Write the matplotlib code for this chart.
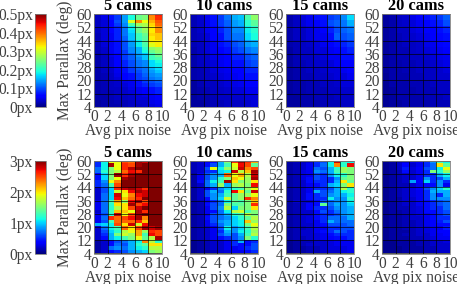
import matplotlib
matplotlib.use("Agg")
import matplotlib.pyplot as plt
from matplotlib.cm import ScalarMappable
from matplotlib.colors import Normalize

plt.rcParams['font.family'] = ['Liberation Serif', 'DejaVu Serif']

titles = ["5 cams", "10 cams", "15 cams", "20 cams"]
x_ticks = [0, 2, 4, 6, 8, 10]
y_ticks = [4, 12, 20, 28, 36, 44, 52, 60]
top_cbar_ticks = [0, 0.1, 0.2, 0.3, 0.4, 0.5]
top_cbar_labels = ["0px", "0.1px", "0.2px", "0.3px", "0.4px", "0.5px"]
bot_cbar_ticks = [0, 1, 2, 3]
bot_cbar_labels = ["0px", "1px", "2px", "3px"]

top_5 = [
 [.03,.045,.07,.09,.14,.19,.24,.25,.39,.44],
 [.03,.045,.07,.09,.14,.19,.24,.25,.38,.43],
 [.03,.04,.06,.10,.14,.31,.38,.32,.36,.41],
 [.03,.04,.06,.09,.13,.22,.27,.28,.34,.40],
 [.03,.04,.06,.08,.12,.18,.24,.27,.33,.38],
 [.03,.04,.06,.08,.12,.17,.24,.26,.33,.38],
 [.025,.04,.05,.08,.12,.16,.21,.24,.34,.35],
 [.025,.04,.05,.08,.11,.16,.21,.23,.33,.35],
 [.025,.04,.05,.07,.10,.14,.18,.23,.33,.33],
 [.025,.04,.05,.07,.10,.14,.18,.22,.31,.33],
 [.025,.035,.05,.07,.10,.13,.15,.20,.26,.27],
 [.025,.035,.05,.07,.09,.13,.15,.19,.24,.26],
 [.02,.03,.045,.06,.09,.11,.14,.16,.21,.24],
 [.02,.03,.04,.06,.09,.11,.13,.16,.21,.22],
 [.02,.03,.04,.06,.08,.10,.12,.13,.17,.19],
 [.02,.03,.04,.06,.08,.10,.12,.13,.17,.18],
 [.02,.03,.035,.05,.07,.09,.11,.12,.15,.17],
 [.02,.03,.035,.05,.07,.09,.10,.12,.14,.16],
 [.02,.025,.03,.045,.06,.07,.09,.11,.13,.14],
 [.02,.025,.03,.04,.06,.07,.09,.10,.12,.13],
 [.02,.025,.03,.035,.045,.05,.07,.09,.10,.11],
 [.02,.025,.03,.035,.04,.05,.07,.08,.09,.10],
 [.02,.025,.03,.03,.035,.045,.05,.06,.07,.08],
 [.02,.025,.025,.03,.035,.04,.05,.06,.07,.08],
 [.02,.02,.025,.03,.03,.035,.04,.045,.05,.06],
 [.02,.02,.025,.03,.03,.035,.04,.04,.05,.055],
 [.015,.02,.02,.025,.025,.03,.035,.035,.045,.05],
 [.015,.02,.02,.02,.025,.03,.03,.035,.04,.045],
]
top_10 = [
 [.025,.035,.05,.07,.09,.12,.15,.16,.22,.26],
 [.025,.035,.05,.07,.09,.11,.14,.15,.20,.23],
 [.025,.035,.05,.06,.08,.10,.13,.13,.18,.20],
 [.025,.03,.04,.06,.07,.10,.12,.12,.17,.19],
 [.025,.03,.04,.05,.07,.08,.10,.11,.14,.15],
 [.02,.03,.04,.05,.06,.07,.09,.10,.12,.13],
 [.02,.03,.035,.045,.05,.06,.08,.08,.10,.11],
 [.02,.03,.035,.04,.05,.06,.07,.07,.09,.10],
 [.02,.025,.03,.04,.045,.05,.06,.06,.08,.08],
 [.02,.025,.03,.035,.04,.045,.05,.06,.07,.07],
 [.015,.025,.03,.03,.035,.04,.045,.05,.06,.06],
 [.015,.02,.025,.03,.03,.035,.04,.04,.05,.05],
 [.015,.02,.02,.025,.03,.03,.035,.035,.04,.04],
 [.015,.015,.02,.025,.025,.03,.03,.03,.035,.04],
]
top_15 = [
 [.02,.03,.04,.05,.07,.07,.09,.10,.13,.17],
 [.02,.03,.04,.05,.06,.07,.10,.11,.12,.15],
 [.02,.03,.03,.04,.05,.06,.08,.10,.11,.12],
 [.02,.03,.03,.04,.05,.05,.07,.11,.10,.11],
 [.02,.025,.03,.035,.04,.05,.06,.07,.08,.09],
 [.015,.025,.03,.03,.04,.04,.05,.06,.07,.08],
 [.015,.025,.03,.03,.035,.04,.05,.05,.07,.07],
 [.015,.025,.025,.03,.035,.035,.04,.05,.055,.06],
 [.015,.02,.025,.03,.03,.035,.04,.04,.05,.055],
 [.015,.02,.025,.025,.03,.03,.035,.04,.04,.05],
 [.015,.02,.02,.025,.025,.03,.03,.035,.04,.04],
 [.015,.02,.02,.025,.025,.025,.03,.03,.035,.035],
 [.015,.015,.02,.02,.025,.025,.025,.03,.03,.03],
 [.015,.015,.02,.02,.02,.025,.025,.025,.03,.03],
]
top_20 = [
 [.015,.02,.03,.035,.045,.055,.07,.08,.09,.11],
 [.015,.02,.03,.035,.04,.05,.06,.07,.08,.10],
 [.015,.02,.03,.03,.04,.045,.055,.06,.07,.08],
 [.015,.02,.025,.03,.035,.04,.05,.055,.065,.07],
 [.015,.02,.025,.03,.03,.035,.045,.05,.055,.065],
 [.015,.02,.025,.025,.03,.035,.04,.045,.05,.055],
 [.015,.02,.025,.025,.03,.03,.035,.04,.045,.05],
 [.015,.02,.02,.025,.025,.03,.03,.035,.04,.045],
 [.015,.02,.02,.025,.025,.03,.03,.03,.035,.04],
 [.01,.02,.02,.02,.025,.025,.03,.03,.035,.035],
 [.01,.02,.02,.02,.025,.025,.025,.03,.03,.03],
 [.01,.015,.02,.02,.02,.025,.025,.025,.03,.03],
 [.01,.015,.02,.02,.02,.02,.025,.025,.025,.03],
 [.01,.015,.015,.02,.02,.02,.02,.025,.025,.025],
]
bot_5 = [
 [.5,1.1,1.9,1.9,2.5,2.4,2.9,2.8,3,3],
 [.5,1.1,2.9,1.9,2.6,2.5,2.9,3,3,3],
 [.7,1.1,1.5,1.9,2.6,2.85,3,3,3,3],
 [.7,1.2,1.5,1.7,2.4,2.7,2.6,3,3,3],
 [.4,1.0,1.5,2.9,2.6,2.9,3,3,3,3],
 [.4,1.0,1.5,1.9,2.9,3,3,3,3,3],
 [.5,.8,1.9,2.3,3,3,3,3,3,3],
 [.5,.7,1.3,2.5,3,3,3,3,3,3],
 [.2,.6,1.0,2.6,2.8,2.9,2.8,2.6,3,3],
 [.2,.6,1.0,1.8,2.0,2.7,2.9,2.8,3,3],
 [.2,.7,1.0,2.8,1.9,2.3,2.7,2.8,3,3],
 [.2,.7,1.0,2.7,2.1,2.4,2.6,3,3,3],
 [.3,.7,1.3,2.2,1.6,2.7,2.9,2.5,3,3],
 [.3,.7,1.2,2.0,2.0,2.9,2.5,2.7,3,3],
 [.3,.7,1.2,1.7,2.0,2.5,2.8,3,3,3],
 [.2,.7,1.3,2.1,2.1,1.9,2.9,2.6,3,3],
 [.3,.6,1.2,2.8,1.9,2.5,2.9,3,3,3],
 [.3,.7,2.6,2.4,2.5,2.7,2.9,2.3,3,3],
 [.3,.6,1.3,2.4,2.4,2.4,2.6,2.1,3,3],
 [.9,1.0,1.1,2.5,2.0,2.8,1.8,2.7,3,3],
 [.2,.7,1.1,1.3,2.4,2.0,2.5,2.9,2.8,2.9],
 [.2,.6,1.0,1.2,1.7,1.9,2.2,1.6,2.6,2.5],
 [.2,.5,.9,1.5,1.8,1.6,2.2,1.3,2.7,2.5],
 [.2,.4,.9,1.1,1.3,1.5,1.9,1.4,1.7,2.9],
 [.1,.2,.4,.6,.7,.9,1.1,2.3,1.7,1.2],
 [.1,.2,.4,.7,.6,.9,1.2,1.4,2.0,2.0],
 [.1,.2,.7,.8,.7,.9,1.1,1.2,1.7,1.7],
 [.1,.2,.4,.5,.6,.8,.9,1.0,1.5,1.6],
]
bot_10 = [
 [.15,.2,.3,.4,.9,1.5,2.6,2.9,2.6,2.2],
 [.15,.2,.4,.6,.9,1.3,1.9,2.7,2.5,1.4],
 [.15,.2,.6,1.9,1.1,1.6,1.8,2.8,2.3,2.5],
 [.15,.2,.5,.5,1.0,1.1,2.8,1.7,2.1,2.9],
 [.1,.3,.6,.8,.9,2.4,1.9,2.2,1.7,2.8],
 [.1,.3,.6,.8,1.2,1.5,2.1,1.9,1.6,2.9],
 [.1,.4,.7,1.1,1.3,2.9,2.0,1.5,1.6,2.0],
 [.1,.2,.7,.9,1.6,.9,1.6,1.7,1.5,2.7],
 [.1,.2,.3,.5,.8,1.0,1.2,1.3,1.6,1.9],
 [.1,.2,.6,.9,.7,1.2,2.7,2.0,1.4,2.8],
 [.1,.2,.6,.8,.9,1.3,1.4,1.6,1.6,1.9],
 [.1,.2,.4,.8,1.0,1.8,1.4,1.6,2.6,2.3],
 [.1,.15,.3,.5,.7,1.1,1.4,1.3,1.5,2.1],
 [.1,.15,.4,.6,.7,1.5,1.3,1.4,1.5,2.6],
 [.1,.15,.3,.6,.8,1.7,1.0,1.5,1.5,2.0],
 [.1,.15,.3,.4,.7,1.1,1.7,1.8,1.3,1.5],
 [.1,.15,.3,.6,.7,.9,1.2,1.3,1.7,1.5],
 [.1,.15,.4,.6,.7,.8,1.0,1.2,1.4,1.7],
 [.1,.15,.3,.6,.8,.9,1.0,1.1,2.1,1.6],
 [.1,.15,.3,.5,.7,.9,1.0,1.1,1.5,1.9],
 [.1,.15,.2,.3,.6,1.1,.8,1.0,1.3,1.7],
 [.1,.15,.2,.3,.5,.9,.8,1.1,1.2,1.6],
 [.1,.15,.2,.3,.6,.8,.6,.9,1.3,1.7],
 [.1,.15,.2,.3,.4,.5,.6,.8,1.5,1.2],
 [.05,.1,.15,.2,.2,.3,.5,.9,.4,.5],
 [.05,.1,.15,.2,.2,.3,.5,.4,.4,.6],
 [.05,.1,.15,.2,.2,.3,.3,.4,.5,.6],
 [.05,.1,.1,.15,.2,.25,.3,.3,.4,.5],
]
bot_15 = [
 [.1,.15,.15,.2,.5,.6,1.1,2.8,1.2,1.1],
 [.1,.15,.2,.3,.5,.7,1.1,2.3,1.2,2.7],
 [.1,.15,.2,.3,.7,.6,.9,1.2,1.6,1.5],
 [.1,.15,.25,.3,.8,.7,.9,1.3,1.6,1.5],
 [.1,.15,.25,.3,.6,.5,.8,1.1,1.2,1.5],
 [.1,.15,.25,.4,.6,.5,.5,.8,1.4,1.5],
 [.1,.15,.2,.4,.5,.5,.5,.9,2.0,1.4],
 [.1,.15,.2,.3,.4,.5,.9,1.0,1.5,2.0],
 [.1,.15,.2,.3,.5,.5,.6,.9,1.7,1.2],
 [.1,.15,.2,.3,.9,.6,.7,.9,1.1,1.2],
 [.1,.15,.2,.4,.5,.6,.8,.9,.9,1.1],
 [.1,.15,.2,.4,.5,.5,1.1,.8,.8,1.2],
 [.1,.2,.2,.2,.4,.6,.7,.8,.8,1.1],
 [.1,.15,.2,.35,.4,1.4,.7,.9,.8,1.0],
 [.1,.15,.2,.35,.5,.5,.6,.8,.8,.9],
 [.1,.15,.2,.2,.4,.6,.5,.7,.8,.9],
 [.1,.15,.2,.2,.4,.5,.5,.6,.8,.9],
 [.1,.15,.2,.25,.4,.5,.7,.7,.7,.9],
 [.1,.15,.2,.25,.3,.5,.9,.7,.7,.7],
 [.1,.15,.2,.2,.3,.4,.6,.6,.6,.7],
 [.1,.15,.15,.2,.3,.3,.5,.5,.6,.6],
 [.1,.15,.2,.2,.3,.4,.5,.7,.6,.5],
 [.1,.15,.2,.2,.25,.3,.4,.5,.5,.5],
 [.1,.15,.15,.2,.25,.3,.35,.4,.4,.5],
 [.05,.1,.15,.15,.2,.2,.25,.3,.3,.3],
 [.05,.1,.15,.2,.2,.2,.25,.3,.3,.3],
 [.05,.1,.1,.15,.15,.2,.25,.25,.25,.3],
 [.05,.1,.1,.15,.15,.2,.2,.2,.25,.3],
]
bot_20 = [
 [.05,.1,.15,.2,.25,.3,.5,.8,1.3,1.1],
 [.05,.1,.2,.35,.2,.3,.5,.7,2.0,1.4],
 [.05,.1,.2,.45,.25,.35,.6,.7,1.1,1.9],
 [.05,.1,.15,.4,.2,.3,.5,1.5,1.2,1.6],
 [.05,.1,.15,.2,.2,.3,.5,.5,.9,1.1],
 [.05,.1,.15,.2,.2,.3,.8,.5,.6,.9],
 [.05,.1,.15,.2,.85,.35,1.0,.5,.8,.5],
 [.05,.1,.15,.15,.2,.3,.4,.4,.8,.3],
 [.05,.1,.15,.2,.25,.35,.6,.8,1.0,1.2],
 [.05,.1,.15,.2,.25,.3,.5,.9,.9,.9],
 [.05,.1,.15,.2,.25,.3,.5,.8,.5,.9],
 [.05,.1,.1,.2,.2,.3,.5,.8,.8,.8],
 [.05,.1,.15,.2,.2,.3,.4,.5,.6,.7],
 [.05,.1,.15,.2,.2,.3,.4,.5,.6,.7],
 [.05,.1,.15,.15,.2,.25,.4,.5,.5,.7],
 [.05,.1,.1,.15,.2,.25,.4,.4,.5,.6],
 [.05,.1,.1,.15,.2,.25,.3,.4,.5,.6],
 [.05,.1,.1,.15,.2,.2,.3,.4,.5,.5],
 [.05,.1,.1,.15,.15,.2,.3,.35,.45,.6],
 [.05,.1,.1,.15,.15,.2,.3,.35,.4,.4],
 [.05,.1,.1,.15,.15,.2,.25,.3,.3,.45],
 [.05,.1,.1,.1,.15,.2,.25,.3,.35,.35],
 [.05,.1,.1,.15,.15,.2,.2,.3,.3,.35],
 [.05,.1,.1,.1,.15,.15,.2,.25,.3,.3],
 [.05,.05,.1,.1,.1,.15,.15,.2,.2,.25],
 [.05,.05,.1,.1,.1,.15,.15,.2,.2,.2],
 [.05,.05,.05,.1,.1,.1,.15,.15,.2,.2],
 [.05,.05,.05,.1,.1,.1,.15,.15,.2,.2],
]
rows_top = [top_5, top_10, top_15, top_20]
rows_bot = [bot_5, bot_10, bot_15, bot_20]

W, H = 457, 284
fig = plt.figure(figsize=(W/100, H/100), dpi=100)
ax_x = [94, 190, 286, 382]
ax_w = 68
row_y = [(14, 107), (161, 253.5)]
grey = '#404040'
spine = '#808080'
fs = 11.2


def axbox(x0, x1, y0, y1):
    return [x0/W, 1 - y1/H, (x1-x0)/W, (y1-y0)/H]


for (y0, y1), data, vmax, cticks, clabels in [
    (row_y[0], rows_top, 0.5, top_cbar_ticks, top_cbar_labels),
    (row_y[1], rows_bot, 3, bot_cbar_ticks, bot_cbar_labels),
]:
    for i, (x0, d) in enumerate(zip(ax_x, data)):
        ax = fig.add_axes(axbox(x0, x0+ax_w, y0, y1))
        ax.imshow(d, cmap='jet', vmin=0, vmax=vmax, aspect='auto',
                  extent=[0, 10, 4, 60], origin='upper', interpolation='nearest')
        ax.set_xticks(x_ticks)
        ax.set_yticks(y_ticks)
        ax.grid(True, color='black', lw=0.55, alpha=0.85)
        ax.tick_params(length=0, labelsize=fs, labelcolor=grey, pad=1.5)
        for s in ax.spines.values():
            s.set_color(spine)
            s.set_linewidth(0.6)
        ax.set_xlabel("Avg pix noise", fontsize=fs, color=grey, labelpad=-1.5)
        ax.set_title(titles[i], fontsize=fs+0.6, fontweight='bold', color='black', pad=0)
        if i == 0:
            ax.set_ylabel("Max Parallax (deg)", fontsize=fs, color=grey, labelpad=2.5)
    cax = fig.add_axes(axbox(35, 46, y0, y1))
    cb = fig.colorbar(ScalarMappable(Normalize(0, vmax), cmap='jet'), cax=cax,
                      ticklocation='left')
    cb.set_ticks(cticks)
    cb.set_ticklabels(clabels)
    cb.ax.tick_params(length=0, labelsize=fs, labelcolor=grey, pad=1.5)
    cb.outline.set_edgecolor(spine)
    cb.outline.set_linewidth(0.6)

fig.savefig("out.png", dpi=100)
